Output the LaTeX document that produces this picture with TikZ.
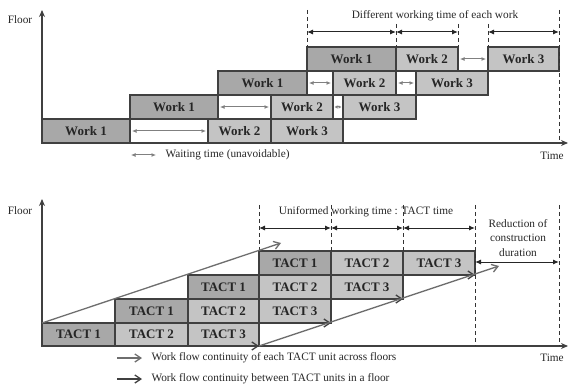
\documentclass[tikz,border=0pt]{standalone}
\usepackage{fontspec}
\setmainfont{Liberation Serif}
\usetikzlibrary{arrows.meta}
\definecolor{boxA}{HTML}{A8A8A8}
\definecolor{boxB}{HTML}{C4C4C4}
\definecolor{edge}{HTML}{404040}
\definecolor{flowgray}{HTML}{6E6E6E}
\tikzset{
  cellA/.style={draw=edge, line width=1.1pt, fill=boxA},
  cellB/.style={draw=edge, line width=1.1pt, fill=boxB},
  lbl/.style={font=\fontsize{13}{15}\selectfont\bfseries, text=black!85},
  txt/.style={font=\fontsize{11.3}{13}\selectfont, text=black!85},
  axisline/.style={draw=edge, line width=1.5pt, -{Stealth[length=7pt,width=6pt]}},
  dashv/.style={draw=black!80, line width=0.9pt, dash pattern=on 4pt off 3pt},
  dimarrow/.style={draw=black!85, line width=1pt, {Latex[length=6pt,width=5pt]}-{Latex[length=6pt,width=5pt]}},
  waitarrow/.style={draw=black!50, line width=1pt, {Latex[length=4.5pt,width=4pt]}-{Latex[length=4.5pt,width=4pt]}},
  waitshort/.style={draw=black!50, line width=1pt, {Latex[length=3pt,width=3.5pt]}-{Latex[length=3pt,width=3.5pt]}},
  grayflow/.style={draw=flowgray, line width=1.3pt, -{Straight Barb[length=6pt,width=8pt]}},
  darkflow/.style={draw=edge, line width=1.3pt, -{Straight Barb[length=6pt,width=8pt]}},
}
\newcommand{\cell}[6]{% name, style, x1, y1, x2, y2
  \path[#2] (#3,#4) rectangle (#5,#6);
  \coordinate (#1) at ({(#3+#5)/2},{(#4+#6)/2});}
\begin{document}
\begin{tikzpicture}[x=1pt,y=-1pt]
\useasboundingbox (0,0) rectangle (570,390);

% ================= TOP DIAGRAM =================
\cell{t11}{cellA}{42}{119}{130}{143}
\cell{t12}{cellB}{208}{119}{271}{143}
\cell{t13}{cellB}{271}{119}{343}{143}
\cell{t21}{cellA}{130}{95}{218}{119}
\cell{t22}{cellB}{271}{95}{333}{119}
\cell{t23}{cellB}{343}{95}{416}{119}
\cell{t31}{cellA}{218}{71}{307}{95}
\cell{t32}{cellB}{333}{71}{396}{95}
\cell{t33}{cellB}{416}{71}{488}{95}
\cell{t41}{cellA}{307}{47}{396}{71}
\cell{t42}{cellB}{396}{47}{458}{71}
\cell{t43}{cellB}{488}{47}{559}{71}

\foreach \n/\t in {t11/Work 1,t12/Work 2,t13/Work 3,t21/Work 1,t22/Work 2,t23/Work 3,t31/Work 1,t32/Work 2,t33/Work 3,t41/Work 1,t42/Work 2,t43/Work 3}
  \node[lbl] (\n l) at (\n) {\t};

% waiting arrows
\coordinate (w1a) at (132,131); \coordinate (w1b) at (206,131);
\coordinate (w2a) at (220,107); \coordinate (w2b) at (269,107);
\coordinate (w3a) at (334.5,107); \coordinate (w3b) at (341.5,107);
\coordinate (w4a) at (309,83);  \coordinate (w4b) at (331,83);
\coordinate (w5a) at (398,83);  \coordinate (w5b) at (414,83);
\coordinate (w6a) at (460,59);  \coordinate (w6b) at (486,59);
\foreach \i in {1,2,4,5,6} \draw[waitarrow] (w\i a) -- (w\i b);
\draw[waitshort] (w3a) -- (w3b);

% axes
\coordinate (to) at (42,143);
\coordinate (ty) at (42,10);
\coordinate (tx) at (568,143);
\draw[axisline] (to) -- (ty);
\draw[axisline] (to) -- (tx);
\node[txt] (tfloor) at (20,20) {Floor};
\node[txt] (ttime) at (552,156) {Time};

% dashed guides
\coordinate (d1a) at (307,10); \coordinate (d1b) at (307,47);
\coordinate (d2a) at (396,24); \coordinate (d2b) at (396,47);
\coordinate (d3a) at (458,24); \coordinate (d3b) at (458,47);
\coordinate (d4a) at (488,24); \coordinate (d4b) at (488,47);
\coordinate (d5a) at (559,10); \coordinate (d5b) at (559,143);
\foreach \i in {1,...,5} \draw[dashv] (d\i a) -- (d\i b);

\coordinate (m1) at (307,32); \coordinate (m2) at (396,32); \coordinate (m3) at (458,32);
\coordinate (m4) at (488,32); \coordinate (m5) at (559,32);
\draw[dimarrow] (m1) -- (m2);
\draw[dimarrow] (m2) -- (m3);
\draw[dimarrow] (m4) -- (m5);
\node[txt] (ttitle) at (435,16) {Different working time of each work};

% legend top
\coordinate (lw1) at (131,155); \coordinate (lw2) at (156,155);
\draw[waitarrow] (lw1) -- (lw2);
\node[txt, anchor=west] (lwt) at (162,155) {Waiting time (unavoidable)};

% ================= BOTTOM DIAGRAM =================
\cell{b11}{cellA}{42}{323}{115}{346}
\cell{b12}{cellB}{115}{323}{188}{346}
\cell{b13}{cellB}{188}{323}{259}{346}
\cell{b21}{cellA}{115}{299}{188}{323}
\cell{b22}{cellB}{188}{299}{259}{323}
\cell{b23}{cellB}{259}{299}{331}{323}
\cell{b31}{cellA}{188}{275}{259}{299}
\cell{b32}{cellB}{259}{275}{331}{299}
\cell{b33}{cellB}{331}{275}{403}{299}
\cell{b41}{cellA}{259}{251}{331}{275}
\cell{b42}{cellB}{331}{251}{403}{275}
\cell{b43}{cellB}{403}{251}{475}{275}

\foreach \n/\t in {b11/TACT 1,b12/TACT 2,b13/TACT 3,b21/TACT 1,b22/TACT 2,b23/TACT 3,b31/TACT 1,b32/TACT 2,b33/TACT 3,b41/TACT 1,b42/TACT 2,b43/TACT 3}
  \node[lbl] (\n l) at (\n) {\t};

% axes
\coordinate (bo) at (42,346);
\coordinate (by) at (42,199);
\coordinate (bx) at (568,346);
\draw[axisline] (bo) -- (by);
\draw[axisline] (bo) -- (bx);
\node[txt] (bfloor) at (20,211) {Floor};
\node[txt] (btime) at (552,358) {Time};

% dashed guides
\coordinate (e1a) at (259,205); \coordinate (e1b) at (259,251);
\coordinate (e2a) at (331,205); \coordinate (e2b) at (331,251);
\coordinate (e3a) at (403,205); \coordinate (e3b) at (403,251);
\coordinate (e4a) at (475,205); \coordinate (e4b) at (475,346);
\coordinate (e5a) at (559,205); \coordinate (e5b) at (559,346);
\foreach \i in {1,...,5} \draw[dashv] (e\i a) -- (e\i b);

\coordinate (n1) at (259,228); \coordinate (n2) at (331,228);
\coordinate (n3) at (403,228); \coordinate (n4) at (475,228);
\coordinate (r1) at (475,262); \coordinate (r2) at (559,262);
\draw[dimarrow] (n1) -- (n2);
\draw[dimarrow] (n2) -- (n3);
\draw[dimarrow] (n3) -- (n4);
\draw[dimarrow] (r1) -- (r2);
\node[txt] (btitle) at (366,212) {Uniformed working time : TACT time};
\node[txt, align=center, font=\fontsize{11.3}{14.5}\selectfont] (bred) at (518,238) {Reduction of\\construction\\duration};

% dark flow arrows (within a floor)
\coordinate (f1a) at (42,346);  \coordinate (f1b) at (259,346);
\coordinate (f2a) at (115,323); \coordinate (f2b) at (331,323);
\coordinate (f3a) at (188,299); \coordinate (f3b) at (403,299);
\coordinate (f4a) at (259,275); \coordinate (f4b) at (475,275);
\foreach \i in {1,...,4} \draw[darkflow] (f\i a) -- (f\i b);

% gray flow arrows (across floors)
\coordinate (g1a) at (42,323); \coordinate (g1b) at (281,243);
\coordinate (g2a) at (259,346); \coordinate (g2b) at (499,266);
\draw[grayflow] (g1a) -- (g1b);
\draw[grayflow] (g2a) -- (g2b);

% legend bottom
\coordinate (lg1) at (117,358); \coordinate (lg2) at (142,358);
\coordinate (ld1) at (117,379); \coordinate (ld2) at (142,379);
\draw[grayflow] (lg1) -- (lg2);
\draw[darkflow] (ld1) -- (ld2);
\node[txt, anchor=west] (lgt) at (148,358) {Work flow continuity of each TACT unit across floors};
\node[txt, anchor=west] (ldt) at (148,379) {Work flow continuity between TACT units in a floor};
\end{tikzpicture}
\end{document}
